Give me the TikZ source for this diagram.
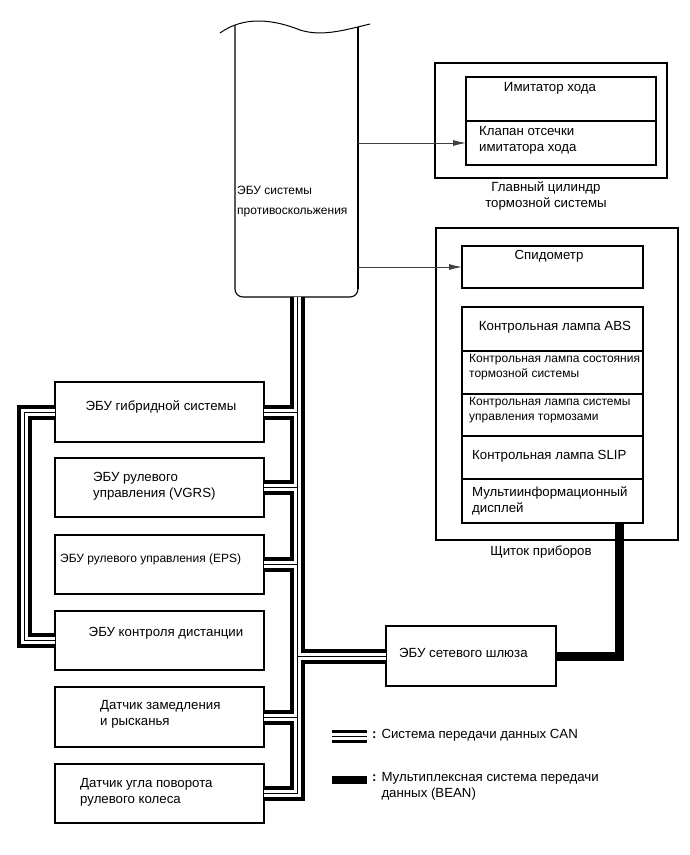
\documentclass[tikz,border=0pt]{standalone}
\usepackage{fontspec}
\setmainfont{Liberation Sans}
\usetikzlibrary{arrows.meta}
\newcommand\canroutes[1]{%
  \draw[#1] (ecub) |- (steer.east);
  \draw[#1] (hyb.east -| ecub) -- (hyb.east);
  \draw[#1] (vgrs.east -| ecub) -- (vgrs.east);
  \draw[#1] (eps.east -| ecub) -- (eps.east);
  \draw[#1] (dec.east -| ecub) -- (dec.east);
  \draw[#1] (gw.west -| ecub) -- (gw.west);
  \draw[#1] (hyb.west) -- ++(-31,0) |- (dist.west);
}
\begin{document}
\begin{tikzpicture}[x=1pt,y=-1pt,
  box/.style={draw, line width=1.1pt, inner sep=0pt, outer sep=0pt},
  big/.style={inner sep=0pt, align=left, font=\fontsize{13.25}{16}\selectfont},
  small/.style={inner sep=0pt, align=left, font=\fontsize{12}{15}\selectfont},
  arr/.style={draw=black!75, line width=0.8pt, -{Latex[length=13pt,width=6pt]}},
  canA/.style={line width=15pt, draw=black},
  canB/.style={line width=7pt, draw=white},
  canC/.style={line width=1pt, draw=black},
  legA/.style={line width=13pt, draw=black},
  legB/.style={line width=7pt, draw=white},
  bean/.style={line width=9pt, draw=black},
]
\useasboundingbox (0,0) rectangle (690,855);
\fill[white] (0,0) rectangle (690,855);

% ABS ECU (cut-off cylinder)
\draw[line width=1pt] (220,33) .. controls (245,15) and (275,20) .. (300,30)
      .. controls (322,37) and (345,30) .. (370,24);
\draw[line width=1.1pt, rounded corners=8pt] (235,25) -- (235,297) -- (358,297) -- (358,27);
\draw[line width=1.9pt] (358,27) -- (358,289);
\coordinate (ecub) at (297.5,297);
\coordinate (ecur) at (358,0);
\node[small, anchor=west, font=\fontsize{12}{20}\selectfont] (tabs) at (237,202) {ЭБУ системы\\противоскольжения};

% Master cylinder
\node[box, minimum width=232pt, minimum height=115pt] (mc) at (551,120.5) {};
\node[box, minimum width=190pt, minimum height=44pt] (imit) at (561,99) {};
\node[box, minimum width=190pt, minimum height=44pt] (clap) at (561,143) {};
\node[big] (timit) at (550,88) {Имитатор хода};
\node[big, anchor=west] (tclap) at (479,140) {Клапан отсечки\\имитатора хода};
\node[big, align=center] (tmc) at (546,196) {Главный цилиндр\\тормозной системы};

% Combination meter
\node[box, minimum width=242pt, minimum height=312pt] (cm) at (557,384) {};
\node[box, minimum width=181pt, minimum height=42pt] (spd) at (552.5,267) {};
\node[box, minimum width=181pt, minimum height=44pt] (l1) at (552.5,329) {};
\node[box, minimum width=181pt, minimum height=43pt] (l2) at (552.5,372.5) {};
\node[box, minimum width=181pt, minimum height=42pt] (l3) at (552.5,415) {};
\node[box, minimum width=181pt, minimum height=43pt] (l4) at (552.5,457.5) {};
\node[box, minimum width=181pt, minimum height=44pt] (l5) at (552.5,501) {};
\node[big] (tspd) at (549,256) {Спидометр};
\node[big] (tl1) at (555,327) {Контрольная лампа ABS};
\node[small, anchor=west] (tl2) at (469,367.5) {Контрольная лампа состояния\\тормозной системы};
\node[small, anchor=west] (tl3) at (469,410.5) {Контрольная лампа системы\\управления тормозами};
\node[big, anchor=west] (tl4) at (472,456) {Контрольная лампа SLIP};
\node[big, anchor=west] (tl5) at (472,501) {Мультиинформационный\\дисплей};
\node[big] (tcm) at (541,552) {Щиток приборов};

% Left column
\node[box, minimum width=209pt, minimum height=60pt] (hyb) at (159.5,412) {};
\node[box, minimum width=209pt, minimum height=59pt] (vgrs) at (159.5,487.5) {};
\node[box, minimum width=209pt, minimum height=59pt] (eps) at (159.5,564.5) {};
\node[box, minimum width=209pt, minimum height=59pt] (dist) at (159.5,640.5) {};
\node[box, minimum width=209pt, minimum height=60pt] (dec) at (159.5,717) {};
\node[box, minimum width=209pt, minimum height=59pt] (steer) at (159.5,793.5) {};
\node[big] (thyb) at (161,407) {ЭБУ гибридной системы};
\node[big, anchor=west] (tvgrs) at (93,486.5) {ЭБУ рулевого\\управления (VGRS)};
\node[small, anchor=west] (teps) at (60,559) {ЭБУ рулевого управления (EPS)};
\node[big] (tdist) at (166,633) {ЭБУ контроля дистанции};
\node[big, anchor=west] (tdec) at (100,714) {Датчик замедления\\и рысканья};
\node[big, anchor=west] (tsteer) at (80,792.5) {Датчик угла поворота\\рулевого колеса};

% Gateway
\node[box, minimum width=170pt, minimum height=60pt] (gw) at (471,656) {};
\node[big, anchor=west] (tgw) at (399,653) {ЭБУ сетевого шлюза};

% Arrows
\draw[arr] (clap.west -| ecur) -- (clap.west);
\draw[arr] (spd.west -| ecur) -- (spd.west);

% CAN bus
\canroutes{canA}
\canroutes{canB}
\canroutes{canC}

% BEAN
\coordinate (beanx) at (619,0);
\draw[bean] (l5.south -| beanx) |- (gw.east);

% Legend
\coordinate (lc1) at (332,736.5);
\coordinate (lc2) at (367,736.5);
\draw[legA] (lc1) -- (lc2);
\draw[legB] (lc1) -- (lc2);
\draw[canC] (lc1) -- (lc2);
\fill[black] (332,776) rectangle (367,784);
\node[big, anchor=west] (tlc) at (372,735) {\textbf{:} Система передачи данных CAN};
\node[big, anchor=west] (tlb) at (372,786) {\textbf{:} Мультиплексная система передачи\\\phantom{\textbf{:} }данных (BEAN)};
\end{tikzpicture}
\end{document}
